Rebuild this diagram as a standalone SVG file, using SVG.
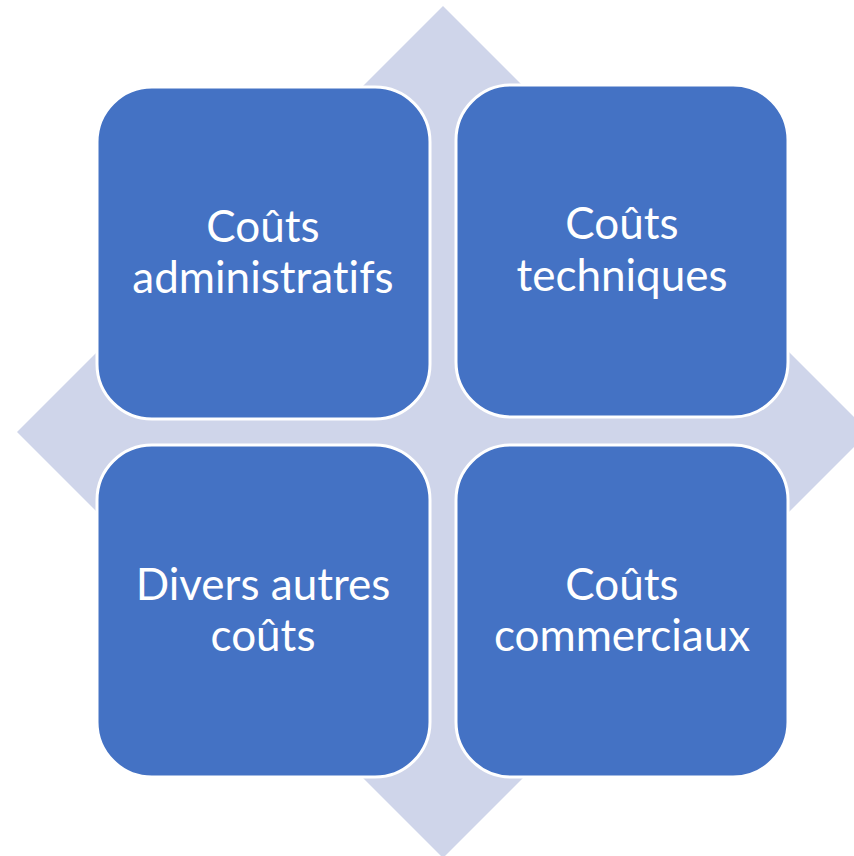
<svg xmlns="http://www.w3.org/2000/svg" width="854" height="856" viewBox="0 0 854 856">
<style>
.box{fill:#4472C4;stroke:#FFFFFF;stroke-width:3}
.t{fill:#FFFFFF;font-family:Lato,"Open Sans",sans-serif;font-size:44px;text-anchor:middle;font-variant-ligatures:none}
</style>
<rect width="854" height="856" fill="#FFFFFF"/>
<g id="diamond"><polygon points="443,6 869,432 443,858 17,432" fill="#CFD5EA"/></g>
<g id="connectors"></g>
<g id="n1"><rect class="box" x="97" y="87" width="333" height="332" rx="55"/>
<text class="t" x="263" y="242">Coûts</text><text class="t" x="263" y="293">administratifs</text></g>
<g id="n2"><rect class="box" x="456" y="85" width="332" height="332" rx="55"/>
<text class="t" x="622" y="239">Coûts</text><text class="t" x="622" y="291">techniques</text></g>
<g id="n3"><rect class="box" x="97" y="445" width="333" height="332" rx="55"/>
<text class="t" x="263" y="600">Divers autres</text><text class="t" x="263" y="651">coûts</text></g>
<g id="n4"><rect class="box" x="456" y="445" width="332" height="332" rx="55"/>
<text class="t" x="622" y="600">Coûts</text><text class="t" x="622" y="651">commerciaux</text></g>
</svg>
